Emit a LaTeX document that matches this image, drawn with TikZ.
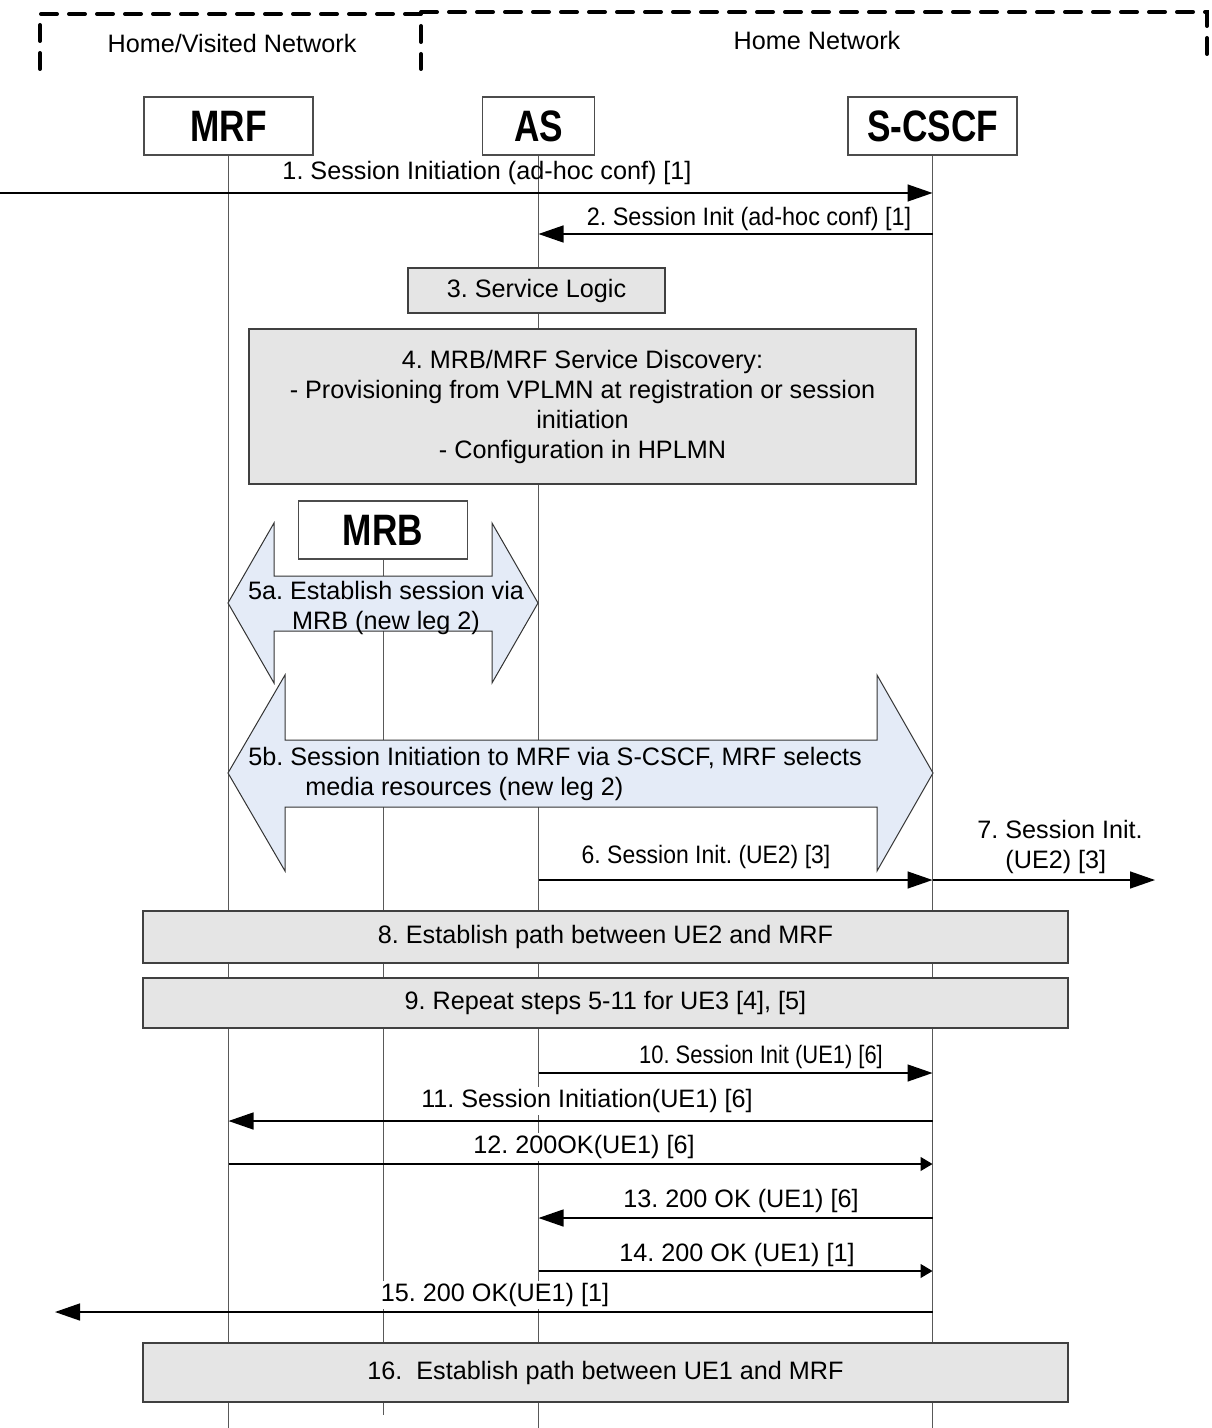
\documentclass[tikz,border=0pt]{standalone}
\usepackage{fontspec}
\setmainfont{Liberation Sans}
\usepackage{graphicx}
\usetikzlibrary{arrows.meta, positioning, calc}

\definecolor{arrowfill}{RGB}{228,235,247}
\newcommand{\hdrtxt}[1]{\scalebox{0.8}[1]{\fontsize{22}{24}\selectfont\bfseries #1}}
\newcommand{\squeeze}[2]{\scalebox{#1}[1]{#2}}
\frenchspacing

\tikzset{
  entity/.style={draw=black!70, fill=white, line width=0.6pt, minimum width=84.5pt, minimum height=29pt, inner sep=0pt},
  lifeline/.style={draw=black!65, line width=0.5pt},
  msg/.style={draw=black, line width=0.7pt, -{Triangle[length=12.5pt,width=8.5pt]}},
  smallmsg/.style={draw=black, line width=0.6pt, -{Triangle[length=6pt,width=7pt]}},
  stepbox/.style={draw=black!75, fill=black!10, line width=0.6pt, inner sep=0pt, align=center},
  bigarrow/.style={draw=black!80, fill=arrowfill, line width=0.5pt},
  zone/.style={line width=2pt, dash pattern=on 8pt off 6pt, line cap=round},
  lbl/.style={inner sep=1pt},
  lblw/.style={lbl, fill=white},
}

\begin{document}
\begin{tikzpicture}[x=0.5pt, y=-0.5pt, font=\fontsize{12.6}{15}\selectfont]
    \useasboundingbox (0,0) rectangle (1211,1428);
    \coordinate (bottom) at (0,1428);

    % network zones
    \draw[zone] (40,69) -- (40,14) -- (421,14) -- (421,69);
    \draw[zone] (421,12) -- (1207,12) -- (1207,58);
    \node[lbl] (zvis) at (232,43) {Home/Visited Network};
    \node[lbl] (zhome) at (817,40) {Home Network};

    % entities and lifelines
    \node[entity] (mrf) at (228.5,126) {\hdrtxt{MRF}};
    \node[entity, minimum width=56pt] (as) at (538.5,126) {\hdrtxt{AS}};
    \node[entity] (cscf) at (932.5,126) {\hdrtxt{S-CSCF}};
    \node[entity] (mrb) at (383,530) {\hdrtxt{MRB}};
    \draw[lifeline] (mrf.south) -- (mrf.south |- bottom);
    \draw[lifeline] (as.south) -- (as.south |- bottom);
    \draw[lifeline] (cscf.south) -- (cscf.south |- bottom);
    \draw[lifeline] (mrb.south) -- ($(mrb.south |- bottom)+(0,-13)$);

    % steps
    \node[stepbox, minimum width=128.5pt, minimum height=22.5pt] (s3) at (536.5,290.5) {3. Service Logic};
    \node[stepbox, minimum width=333.5pt, minimum height=77.5pt] (s4) at (582.5,406.5)
        {4. MRB/MRF Service Discovery:\\- Provisioning from VPLMN at registration or session\\initiation\\- Configuration in HPLMN};

    % 5a and 5b
    \draw[bigarrow] (228,603) -- (274,523) -- (274,576) -- (492,576) -- (492,523) -- (538,603)
        -- (492,683) -- (492,631) -- (274,631) -- (274,683) -- cycle;
    \node[lbl, align=center] (s5a) at (386,608) {5a. Establish session via\\MRB (new leg 2)};
    \draw[bigarrow] (228,773) -- (285,675) -- (285,740) -- (877,740) -- (877,675) -- (933,773)
        -- (877,871) -- (877,807) -- (285,807) -- (285,871) -- cycle;
    \node[lbl, align=left, anchor=west] (s5b) at (246,774)
        {5b. Session Initiation to MRF via S-CSCF, MRF selects\\\hspace*{28.5pt}media resources (new leg 2)};

    % messages
    \coordinate (y1) at (0,193);
    \draw[msg] (y1) -- (y1 -| cscf);
    \node[lbl] (l1) at (487,173) {1. Session Initiation (ad-hoc conf) [1]};

    \coordinate (y2) at (0,234);
    \draw[msg] (y2 -| cscf) -- (y2 -| as);
    \node[lbl] (l2) at (749,219) {\squeeze{0.93}{2. Session Init (ad-hoc conf) [1]}};

    \coordinate (y6) at (0,880);
    \coordinate (e7) at (1155,880);
    \draw[msg] (y6 -| as) -- (y6 -| cscf);
    \draw[msg] (y6 -| cscf) -- (e7);
    \node[lbl] (l6) at (706,857) {\squeeze{0.91}{6. Session Init. (UE2) [3]}};
    \node[lbl, align=left, anchor=west] (l7) at (975,847) {7. Session Init.\\\hspace*{14pt}(UE2) [3]};

    \node[stepbox, minimum width=462.5pt, minimum height=26pt] (s8) at (605.5,937) {8. Establish path between UE2 and MRF};
    \node[stepbox, minimum width=462.5pt, minimum height=25pt] (s9) at (605.5,1003) {9. Repeat steps 5-11 for UE3 [4], [5]};

    \coordinate (y10) at (0,1073);
    \draw[msg] (y10 -| as) -- (y10 -| cscf);
    \node[lbl] (l10) at (761,1057) {\squeeze{0.87}{10. Session Init (UE1) [6]}};

    \coordinate (y11) at (0,1121);
    \draw[msg] (y11 -| cscf) -- (y11 -| mrf);
    \node[lblw] (l11) at (587,1101) {11. Session Initiation(UE1) [6]};

    \coordinate (y12) at (0,1164);
    \draw[smallmsg] (y12 -| mrf) -- (y12 -| cscf);
    \node[lblw] (l12) at (584,1147) {12. 200OK(UE1) [6]};

    \coordinate (y13) at (0,1218);
    \draw[msg] (y13 -| cscf) -- (y13 -| as);
    \node[lbl] (l13) at (741,1201) {13. 200 OK (UE1) [6]};

    \coordinate (y14) at (0,1271);
    \draw[smallmsg] (y14 -| as) -- (y14 -| cscf);
    \node[lbl] (l14) at (737,1255) {14. 200 OK (UE1) [1]};

    \coordinate (y15) at (0,1312);
    \coordinate (e15) at (55,1312);
    \draw[msg] (y15 -| cscf) -- (e15);
    \node[lblw] (l15) at (495,1295) {15. 200 OK(UE1) [1]};

    \node[stepbox, minimum width=462.5pt, minimum height=29.5pt] (s16) at (605.5,1372.5) {16.\ \ Establish path between UE1 and MRF};
\end{tikzpicture}
\end{document}
